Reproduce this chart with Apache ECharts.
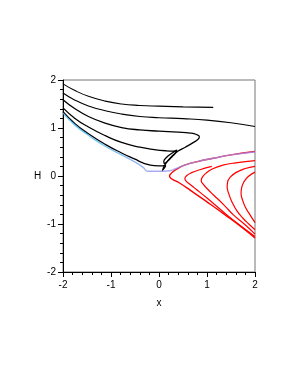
<!DOCTYPE html>
<html><head><meta charset="utf-8">
<script src="https://cdn.jsdelivr.net/npm/echarts@6/dist/echarts.min.js"></script>
<style>html,body{margin:0;padding:0;background:#fff}#c{width:300px;height:388px}</style>
</head><body><div id="c"></div>
<script>
var xTicks = [-2, -1, 0, 1, 2];
var yTicks = [-2, -1, 0, 1, 2];
var black1 = [[-2,1.92],[-1.75,1.78],[-1.47,1.66],[-1.12,1.56],[-0.78,1.50],[-0.4,1.47],[0.0,1.455],[0.5,1.44],[1.13,1.43]];
var black2 = [[-2,1.73],[-1.75,1.58],[-1.47,1.46],[-1.12,1.36],[-0.78,1.29],[-0.4,1.24],[0,1.215],[0.5,1.195],[1.0,1.165],[1.5,1.11],[2,1.03]];
var black3 = [[-2,1.59],[-1.75,1.40],[-1.47,1.24],[-1.12,1.1],[-0.78,1.01],[-0.4,0.96],[0,0.935],[0.4,0.915],[0.65,0.895],[0.78,0.865],[0.84,0.82],[0.82,0.77],[0.72,0.7],[0.55,0.6],[0.4,0.52],[0.28,0.42],[0.17,0.3],[0.11,0.21],[0.08,0.13]];
var black4 = [[-2,1.42],[-1.75,1.2],[-1.47,1.02],[-1.12,0.84],[-0.78,0.7],[-0.4,0.6],[-0.1,0.55],[0.15,0.525],[0.3,0.52],[0.37,0.54],[0.36,0.5],[0.28,0.41],[0.18,0.31],[0.11,0.26],[0.1,0.3],[0.16,0.39],[0.26,0.47],[0.36,0.53]];
var black5 = [[-2,1.34],[-1.75,1.09],[-1.47,0.88],[-1.12,0.66],[-0.78,0.48],[-0.5,0.35],[-0.3,0.26],[-0.1,0.215],[0.08,0.21],[0.14,0.22],[0.12,0.18],[0.08,0.13],[0.07,0.1]];
var blueCurve = [[-2,1.31],[-1.75,1.06],[-1.47,0.85],[-1.12,0.62],[-0.78,0.44],[-0.5,0.29],[-0.33,0.18],[-0.24,0.1],[0.1,0.1],[0.22,0.11],[0.32,0.14],[0.52,0.22],[0.8,0.3],[1.13,0.37],[1.5,0.44],[2,0.5]];
var red1 = [[2,0.51],[1.5,0.44],[1.13,0.37],[0.8,0.3],[0.52,0.22],[0.38,0.15],[0.29,0.09],[0.24,0.04],[0.22,0.0],[0.24,-0.04],[0.3,-0.08],[0.42,-0.14],[0.7,-0.33],[1.0,-0.54],[1.35,-0.79],[1.69,-1.04],[2,-1.29]];
var red2 = [[1.1,0.2],[0.85,0.13],[0.68,0.07],[0.58,0.01],[0.54,-0.05],[0.56,-0.1],[0.63,-0.16],[0.78,-0.28],[1.0,-0.46],[1.33,-0.74],[1.65,-1.0],[2,-1.26]];
var red3 = [[2,0.32],[1.6,0.275],[1.33,0.225],[1.12,0.15],[0.98,0.06],[0.9,-0.03],[0.88,-0.1],[0.92,-0.17],[1.0,-0.26],[1.13,-0.39],[1.35,-0.6],[1.55,-0.81],[1.8,-1.02],[2,-1.21]];
var red4 = [[2,0.2],[1.78,0.15],[1.6,0.07],[1.49,-0.02],[1.43,-0.12],[1.42,-0.22],[1.45,-0.36],[1.52,-0.54],[1.62,-0.72],[1.75,-0.88],[1.87,-1.0],[2,-1.12]];
var red5 = [[2,0.08],[1.86,-0.01],[1.77,-0.12],[1.72,-0.25],[1.71,-0.36],[1.74,-0.5],[1.8,-0.65],[1.89,-0.8],[2,-0.97]];

var chart = echarts.init(document.getElementById('c'));
function line(data, color, w, opacity) {
  return {type:'line', data:data, showSymbol:false, smooth:0.5, silent:true,
    lineStyle:{color:color, width:w, opacity:opacity == null ? 1 : opacity}};
}
var lab = {color:'#000', fontSize:10, fontFamily:'Liberation Sans, Arial, sans-serif'};
var blueGrad = new echarts.graphic.LinearGradient(0,0,1,0,[
  {offset:0,color:'#40bff2'},{offset:0.3,color:'#60b0f0'},{offset:0.45,color:'#9098f0'},{offset:1,color:'#a888f0'}]);
chart.setOption({
  animation:false,
  grid:{left:63, right:45, top:80, bottom:116, show:true, borderColor:'#777', borderWidth:1},
  xAxis:{type:'value', min:xTicks[0], max:xTicks[xTicks.length-1], interval:1,
    name:'x', nameLocation:'middle', nameGap:26, nameTextStyle:lab,
    axisLine:{onZero:false, lineStyle:{color:'#000', width:1}},
    axisTick:{length:5, lineStyle:{color:'#000'}},
    minorTick:{show:true, splitNumber:5, length:3, lineStyle:{color:'#000'}},
    splitLine:{show:false},
    axisLabel:Object.assign({margin:8}, lab)},
  yAxis:{type:'value', min:yTicks[0], max:yTicks[yTicks.length-1], interval:1,
    name:'H', nameLocation:'middle', nameGap:17, nameRotate:0, nameTextStyle:lab,
    axisLine:{onZero:false, lineStyle:{color:'#000', width:1}},
    axisTick:{length:5, lineStyle:{color:'#000'}},
    minorTick:{show:true, splitNumber:5, length:3, lineStyle:{color:'#000'}},
    splitLine:{show:false},
    axisLabel:Object.assign({margin:7}, lab)},
  series:[
    line(black1,'#000',1.1), line(black2,'#000',1.1), line(black3,'#000',1.3),
    line(black4,'#000',1.3), line(black5,'#000',1.3),
    line(red1,'#ff0000',1.4), line(red2,'#ff0000',1.2), line(red3,'#ff0000',1.2),
    line(red4,'#ff0000',1.2), line(red5,'#ff0000',1.2),
    line(blueCurve, blueGrad, 1.4, 0.8)
  ]
});
</script></body></html>
